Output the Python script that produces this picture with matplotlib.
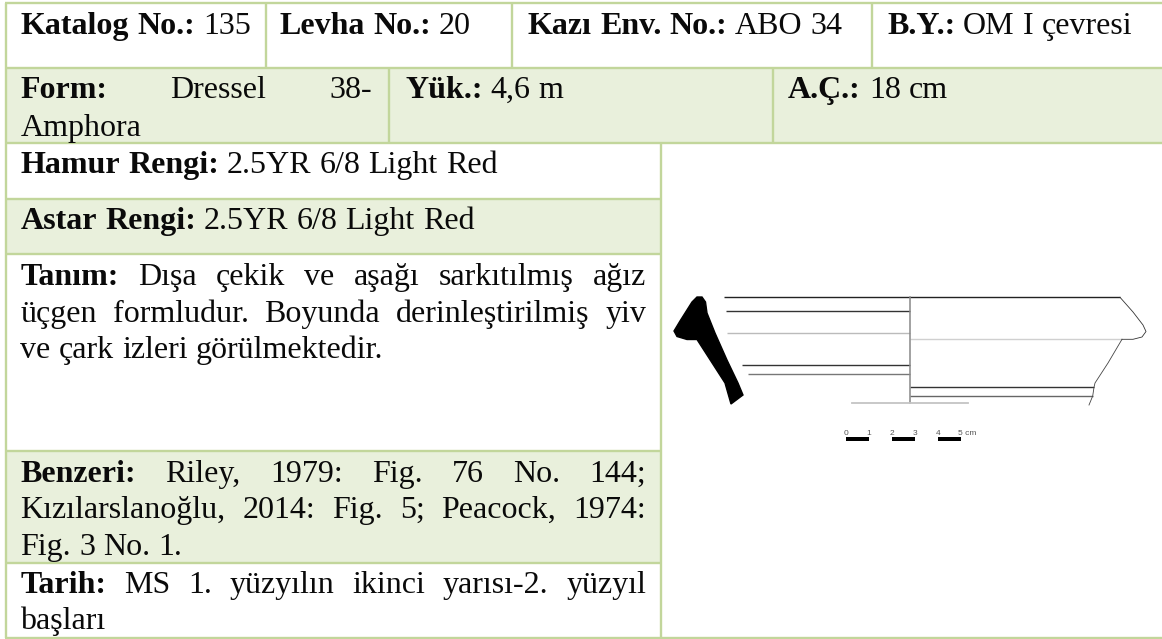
import matplotlib
matplotlib.use("Agg")
import matplotlib.pyplot as plt
from matplotlib.patches import Rectangle

# table text, (bold label, regular text, justified)
row1_cells = [("Katalog No.:", "135"), ("Levha No.:", "20"), ("Kazı Env. No.:", "ABO 34"), ("B.Y.:", "OM I çevresi")]
row2_cells = [("Yük.:", "4,6 m"), ("A.Ç.:", "18 cm")]
form_lines = [("Form:", "Dressel 38-", True), ("", "Amphora", False)]
hamur_lines = [("Hamur Rengi:", "2.5YR 6/8 Light Red", False)]
astar_lines = [("Astar Rengi:", "2.5YR 6/8 Light Red", False)]
tanim_lines = [("Tanım:", "Dışa çekik ve aşağı sarkıtılmış ağız", True),
               ("", "üçgen formludur. Boyunda derinleştirilmiş yiv", True),
               ("", "ve çark izleri görülmektedir.", False)]
benzeri_lines = [("Benzeri:", "Riley, 1979: Fig. 76 No. 144;", True),
                 ("", "Kızılarslanoğlu, 2014: Fig. 5; Peacock, 1974:", True),
                 ("", "Fig. 3 No. 1.", False)]
tarih_lines = [("Tarih:", "MS 1. yüzyılın ikinci yarısı-2. yüzyıl", True),
               ("", "başları", False)]

# sherd section outline
profile_x = [697, 702, 705.5, 707, 715, 727, 738, 743, 731, 725, 697, 687, 677, 674, 680, 692]
profile_y = [297, 297, 302, 313, 333, 360, 383, 395, 404, 383, 339.5, 339.5, 336.5, 331, 321, 302]
rim_x = [1120, 1133, 1143, 1146, 1142, 1133, 1122]
rim_y = [297.3, 312, 325, 331.5, 337, 339.3, 339.3]
wall_x = [1122, 1108, 1095, 1094, 1092.7, 1089]
wall_y = [339.3, 363, 383, 387.3, 396, 405]

# x start, x end, y, colour
section_lines = [(724, 1120, 297.3, "#222222"), (726, 910, 311.3, "#333333"), (726.7, 910, 333, "#bbbbbb"),
                 (742, 910, 365.3, "#333333"), (747.7, 910, 374, "#777777"), (910, 1121.7, 339.3, "#d0d0d0"),
                 (910, 1094, 387.3, "#333333"), (910, 1092.7, 396, "#666666")]
scale_ticks = ["0", "1", "2", "3", "4", "5 cm"]
scale_edges = [845.7, 869, 891.7, 915, 937.7, 961]

BORDER = "#C2D69B"
SHADE = "#E9F0DC"
FONT = "Liberation Serif"
SIZE = 23
W, H = 1162, 639

fig = plt.figure(figsize=(W / 100, H / 100), dpi=100)
ax = fig.add_axes([0, 0, 1, 1])
ax.set_xlim(0, W)
ax.set_ylim(H, 0)
ax.axis("off")
renderer = fig.canvas.get_renderer()


def width_of(s, weight):
    t = ax.text(0, 0, s, family=FONT, fontsize=SIZE, weight=weight)
    w = t.get_window_extent(renderer).width
    t.remove()
    return w


def draw_line(x, y, label, text, right=None):
    # lays a line word by word, stretches the gaps if right is given
    words = [(w, "bold") for w in label.split()] + [(w, "normal") for w in text.split()]
    widths = [width_of(w, wt) for w, wt in words]
    gap = width_of("a a", "normal") - width_of("aa", "normal")
    if right is not None and len(words) > 1:
        gap = (right - x - sum(widths)) / (len(words) - 1)
    for (w, wt), wd in zip(words, widths):
        ax.text(x, y, w, family=FONT, fontsize=SIZE, weight=wt, va="baseline", color="#0a0a0a")
        x += wd + gap


def draw_block(x, right, baselines, lines):
    for y, (label, text, justified) in zip(baselines, lines):
        draw_line(x, y, label, text, right if justified else None)


def hline(x0, x1, y):
    ax.plot([x0, x1], [y, y], color=BORDER, lw=1.7, solid_capstyle="butt")


def vline(x, y0, y1):
    ax.plot([x, x], [y0, y1], color=BORDER, lw=1.7, solid_capstyle="butt")


# shaded rows
ax.add_patch(Rectangle((6, 68), W - 6, 75, color=SHADE, lw=0))
ax.add_patch(Rectangle((6, 198.5), 655, 55.5, color=SHADE, lw=0))
ax.add_patch(Rectangle((6, 451), 655, 112, color=SHADE, lw=0))

# grid
for y in [3, 68, 143, 637.5]:
    hline(5, W, y)
for y in [198.5, 254, 451, 563]:
    hline(5, 661, y)
vline(6, 3, 638)
vline(661, 143, 638)
for x in [266, 511.5, 872]:
    vline(x, 3, 68)
for x in [389, 773]:
    vline(x, 68, 143)

# text
for x, (label, text) in zip([20.5, 280, 528, 887], row1_cells):
    draw_line(x, 34, label, text)
for x, (label, text) in zip([405, 788], row2_cells):
    draw_line(x, 98, label, text)
draw_block(20.5, 372, [98, 136], form_lines)
draw_block(20.5, 646, [173], hamur_lines)
draw_block(20.5, 646, [229], astar_lines)
draw_block(20.5, 646, [285, 322, 358], tanim_lines)
draw_block(20.5, 646, [482, 518, 555], benzeri_lines)
draw_block(20.5, 646, [593, 629], tarih_lines)

# sherd drawing
ax.fill(profile_x, profile_y, color="black", lw=1.0)
for x0, x1, y, c in section_lines:
    ax.plot([x0, x1], [y, y], color=c, lw=1.0, solid_capstyle="butt")
ax.plot([910, 910], [297, 403], color="#888888", lw=1.1)
ax.plot([851.7, 968], [402.7, 402.7], color="#c4c4c4", lw=1.3)
ax.plot(rim_x, rim_y, color="#333333", lw=0.6)
ax.plot(wall_x, wall_y, color="#444444", lw=0.6)

# scale bar
for i in [0, 2, 4]:
    ax.add_patch(Rectangle((scale_edges[i], 436.7), scale_edges[i + 1] - scale_edges[i], 4, color="black", lw=0))
for x, s in zip(scale_edges, scale_ticks):
    if " " in s:
        ax.text(x - 3, 435, s, family="Liberation Sans", fontsize=6, color="#555555", ha="left", va="baseline")
    else:
        ax.text(x, 435, s, family="Liberation Sans", fontsize=6, color="#555555", ha="center", va="baseline")

fig.savefig("out.png", dpi=100)
